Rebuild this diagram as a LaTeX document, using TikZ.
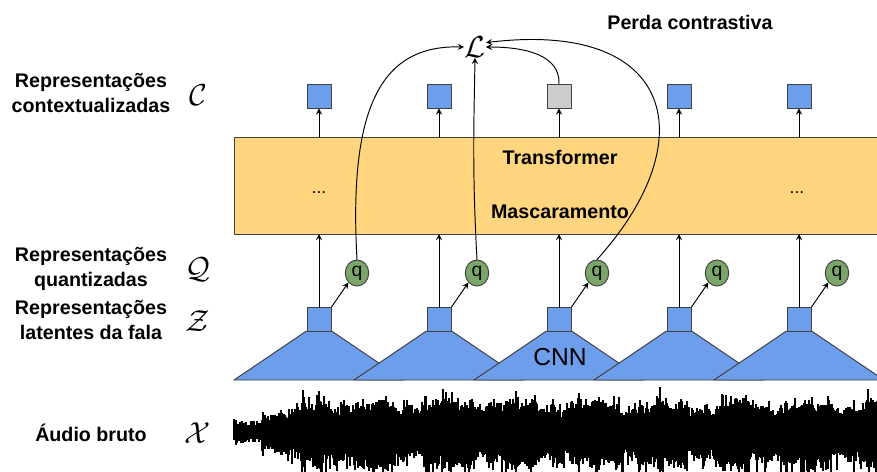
\documentclass[tikz,border=0pt]{standalone}
\usepackage{fontspec}
\setmainfont{Liberation Sans}
\usetikzlibrary{shapes.geometric}
\definecolor{azul}{HTML}{6D9EEB}
\definecolor{cinza}{HTML}{CCCCCC}
\definecolor{verde}{HTML}{7BA66A}
\definecolor{laranja}{HTML}{FFD580}
\begin{document}
\begin{tikzpicture}[x=0.02cm,y=-0.02cm,line cap=round,line join=round,>=stealth,
		line width=0.55pt,
		quad/.style={draw=black!75,minimum size=0.48cm,inner sep=0pt},
		qnode/.style={ellipse,draw=black!75,fill=verde,minimum width=0.47cm,minimum height=0.52cm,inner sep=0pt,font=\fontsize{11}{13}\selectfont},
		rotulo/.style={align=center,font=\fontsize{11.2}{13.8}\selectfont\bfseries},
		simb/.style={font=\LARGE,inner sep=0pt}]
				\useasboundingbox (0,0) rectangle (877,471);
				\draw[draw=black!75,fill=laranja] (234,137) rectangle (890,234);
				\coordinate (tt) at (0,137);
				\coordinate (tb) at (0,234);
				\node[rotulo] (trf) at (560,157) {Transformer};
				\node[rotulo] (masc) at (560,212) {Mascaramento};
				\node (pt1) at (319,193) {...};
				\node (pt2) at (797,193) {...};
				\foreach \i/\cor in {1/azul,2/azul,3/cinza,4/azul,5/azul}{
					\pgfmathsetmacro\cx{199+120*\i}
					\filldraw[draw=black!75,fill=azul] (\cx-85,380) -- (\cx-12.5,331) -- (\cx+12.5,331) -- (\cx+85,380) -- cycle;
					\node[quad,fill=azul] (z\i) at (\cx,319.5) {};
					\node[qnode] (q\i) at (\cx+38,273) {q};
					\node[quad,fill=\cor] (c\i) at (\cx,96) {};
					\draw[->] (z\i.north) -- (z\i.north |- tb);
					\draw[->] (z\i.north east) -- (q\i.south west);
					\draw[->] (c\i.south |- tt) -- (c\i.south);
				}
				\node[font=\fontsize{14}{16}\selectfont] (cnn) at (560,357) {CNN};
				\node[simb] (L) at (475,47) {$\mathcal{L}$};
				\draw[->] (q1.north) .. controls (348,100) and (385,45) .. (L.west);
				\draw[->] (q2.north) .. controls (472,170) and (474,120) .. (L.south);
				\draw[->] (c3.north) .. controls (560,55) and (525,47) .. (L.east);
				\draw[->] (q3.north) .. controls (705,140) and (675,20) .. ([yshift=2.5pt]L.east);
				\node[rotulo] (perda) at (690,22) {Perda contrastiva};
				\node[rotulo] (rc) at (91,93) {Representações\\contextualizadas};
				\node[rotulo] (rq) at (91,269) {Representações\\quantizadas};
				\node[rotulo] (rz) at (91,320) {Representações\\latentes da fala};
				\node[rotulo] (ab) at (91,433) {Áudio bruto};
				\node[simb] (sc) at (198,95) {$\mathcal{C}$};
				\node[simb] (sq) at (198,270) {$\mathcal{Q}$};
				\node[simb] (sz) at (198,321) {$\mathcal{Z}$};
				\node[simb] (sx) at (198,433) {$\mathcal{X}$};
				\pgfmathsetseed{17}
				\foreach \x in {234,235,...,877}{
					\pgfmathsetmacro\env{1+0.15*sin(\x*5)+0.1*sin(\x*17+40)}
					\pgfmathsetmacro\ya{\env*(\x<262 ? 6+5*rnd : (\x<302 ? 13+7*rnd+8*rnd^4 : 18+10*rnd+12*rnd^5))}
					\pgfmathsetmacro\yb{\env*(\x<262 ? 6+5*rnd : (\x<302 ? 15+8*rnd+12*rnd^4 : 21+12*rnd+19*rnd^5))}
					\draw[line width=0.75pt,line cap=butt] (\x,432-\ya) -- (\x,432+\yb);
				}
		\end{tikzpicture}
\end{document}
